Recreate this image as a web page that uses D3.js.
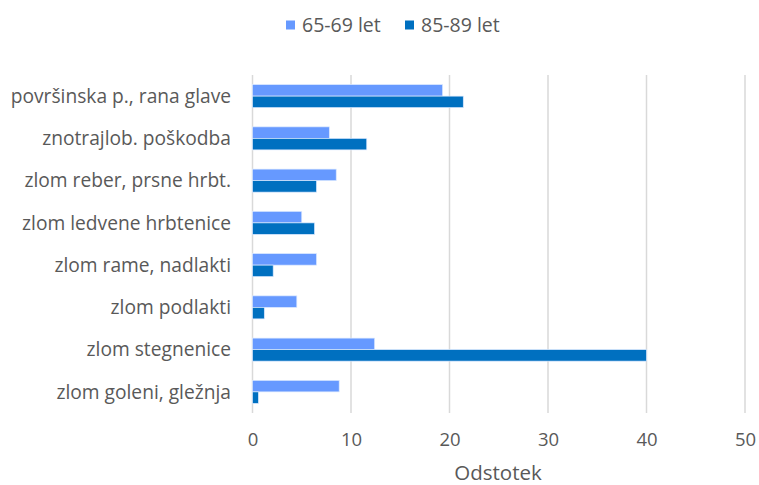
<!DOCTYPE html>
<html><head><meta charset="utf-8">
<script src="https://cdn.jsdelivr.net/npm/d3@7"></script>
<style>html,body{margin:0;padding:0;background:#fff;}svg{display:block;}</style>
</head><body>
<svg id="c" width="759" height="485"></svg>
<script>
const categories = ["površinska p., rana glave","znotrajlob. poškodba","zlom reber, prsne hrbt.","zlom ledvene hrbtenice","zlom rame, nadlakti","zlom podlakti","zlom stegnenice","zlom goleni, gležnja"];
const seriesNames = ["65-69 let","85-89 let"];
const values6569 = [19.3, 7.8, 8.5, 5.0, 6.5, 4.5, 12.4, 8.8];
const values8589 = [21.4, 11.6, 6.5, 6.3, 2.1, 1.2, 40.0, 0.6];
const xTicks = [0,10,20,30,40,50];
const colors = ["#6699FF","#0070C0"];

(function(){
const font = "'Open Sans', Lato, sans-serif";
const svg = d3.select("#c");
const pL = 252.5, pR = 745, pT = 75, pB = 413;
const x = d3.scaleLinear().domain([0,50]).range([pL,pR]);
const y = d3.scaleBand().domain(categories).range([pT,pB]).paddingInner(0.455).paddingOuter(0.2275);
const ys = d3.scaleBand().domain(seriesNames).range([0,y.bandwidth()]);

svg.append("g").selectAll("line").data(xTicks).join("line")
  .attr("x1",d=>x(d)).attr("x2",d=>x(d)).attr("y1",pT).attr("y2",pB)
  .attr("stroke","#d9d9d9").attr("stroke-width",1.5);

const data = categories.map((c,i)=>({c, vals:[values6569[i], values8589[i]]}));
const g = svg.append("g").selectAll("g").data(data).join("g")
  .attr("transform",d=>`translate(0,${y(d.c)})`);
g.selectAll("rect").data(d=>d.vals.map((v,j)=>({v,s:seriesNames[j],j}))).join("rect")
  .attr("x",x(0)).attr("y",d=>ys(d.s)).attr("width",d=>x(d.v)-x(0)).attr("height",ys.bandwidth())
  .attr("fill",d=>colors[d.j]).attr("stroke","#dbe8ff").attr("stroke-width",0.7);

svg.append("g").selectAll("text").data(categories).join("text")
  .attr("x",231).attr("y",d=>y(d)+y.bandwidth()/2).attr("dy","0.35em")
  .attr("text-anchor","end").attr("font-family",font).attr("font-size",19.2).attr("fill","#595959")
  .text(d=>d);

const xa = d3.axisBottom(x).tickValues(xTicks).tickSize(0).tickPadding(0);
const axg = svg.append("g").attr("transform",`translate(0,440)`).call(xa);
axg.select(".domain").remove();
axg.selectAll("text").attr("font-family",font).attr("font-size",18.5).attr("fill","#595959").attr("dy","0.35em").attr("y",0);

svg.append("text").attr("x",498).attr("y",473).attr("dy","0.35em").attr("text-anchor","middle")
  .attr("font-family",font).attr("font-size",20.5).attr("fill","#595959").text("Odstotek");

const legX = [286, 405];
const lg = svg.append("g").selectAll("g").data(seriesNames).join("g")
  .attr("transform",(d,i)=>`translate(${legX[i]},0)`);
lg.append("rect").attr("x",0).attr("y",20.5).attr("width",9).attr("height",9).attr("fill",(d,i)=>colors[i]);
lg.append("text").attr("x",16).attr("y",25).attr("dy","0.35em").attr("font-family",font).attr("font-size",19.5).attr("fill","#595959").text(d=>d);
})();
</script>
</body></html>
